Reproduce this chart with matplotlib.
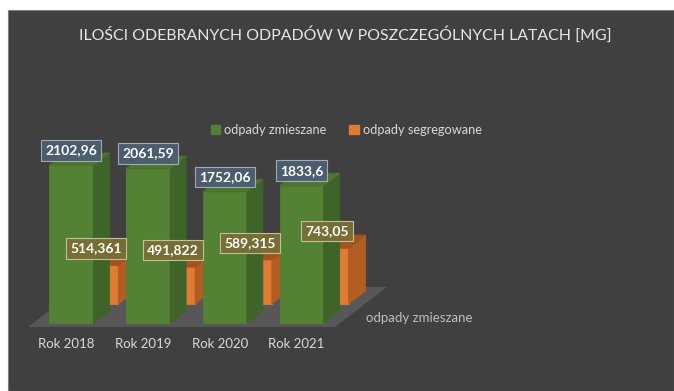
import matplotlib.pyplot as plt
from matplotlib.patches import Polygon, Rectangle, Patch

plt.rcParams['font.family'] = ['Lato', 'DejaVu Sans']

years = ["Rok 2018", "Rok 2019", "Rok 2020", "Rok 2021"]
mixed = [2102.96, 2061.59, 1752.06, 1833.6]
segregated = [514.361, 491.822, 589.315, 743.05]
series_names = ["odpady zmieszane", "odpady segregowane"]
title = "ILOŚCI ODEBRANYCH ODPADÓW W POSZCZEGÓLNYCH LATACH [MG]"

BG = "#404040"
TXT = "#d9d9d9"
# front / side / top shades for each series
GREEN = ("#548235", "#3f6428", "#4c7530")
ORANGE = ("#e07b34", "#b25d22", "#a5531d")

# oblique projection: depth measured in category widths
W_PX, H_PX = 674, 391
CAT_PX = 76.75          # pixels per category
VAL_PX = 0.075          # pixels per value unit
SLOPE = 0.77            # vertical rise per unit of depth
DY = SLOPE * CAT_PX / VAL_PX


def proj(x, z, d):
    return (x + d, z + d * DY)


def draw_box(ax, xc, w, h, d0, d1, shades, z):
    xl, xr = xc - w / 2, xc + w / 2
    front = [proj(xl, 0, d0), proj(xr, 0, d0), proj(xr, h, d0), proj(xl, h, d0)]
    side = [proj(xr, 0, d0), proj(xr, 0, d1), proj(xr, h, d1), proj(xr, h, d0)]
    top = [proj(xl, h, d0), proj(xr, h, d0), proj(xr, h, d1), proj(xl, h, d1)]
    for pts, col in zip((front, side, top), shades):
        ax.add_patch(Polygon(pts, closed=True, facecolor=col, edgecolor=col,
                             linewidth=0.6, zorder=z, clip_on=False))


fig = plt.figure(figsize=(W_PX / 100, H_PX / 100), dpi=100)
fig.patch.set_facecolor("white")
fig.patches.append(Rectangle((8 / W_PX, 0), 1 - 8 / W_PX, 1 - 10 / H_PX,
                             transform=fig.transFigure, facecolor=BG,
                             edgecolor="#7f7f7f", linewidth=0.8, zorder=-5))

ax = fig.add_axes([28 / W_PX, (H_PX - 327) / H_PX, 307 / W_PX, 225 / H_PX])
ax.set_xlim(-0.5, 3.5)
ax.set_ylim(0, 3000)
ax.axis("off")

# floor
fd = 52 / CAT_PX
floor = [proj(-0.5, 0, 0), proj(3.5, 0, 0), proj(3.5, 0, fd), proj(-0.5, 0, fd)]
ax.add_patch(Polygon(floor, closed=True, facecolor="#575757", edgecolor="none",
                     zorder=1, clip_on=False))

bw = 44 / CAT_PX
g0, g1 = 5 / CAT_PX, 21 / CAT_PX
o0, o1 = 30 / CAT_PX, 47 / CAT_PX

for i, v in enumerate(segregated):
    draw_box(ax, i, bw, v, o0, o1, ORANGE, 2 + i * 0.01)
for i, v in enumerate(mixed):
    draw_box(ax, i, bw, v, g0, g1, GREEN, 3 + i * 0.01)

# value labels
for i, v in enumerate(mixed):
    x, y = proj(i, v, g0)
    ax.text(x, y + 200, str(v).replace(".", ","), ha="center", va="center",
            color="white", fontsize=10, fontweight="bold", zorder=6, clip_on=False,
            bbox=dict(boxstyle="square,pad=0.3", facecolor="#4b5e71",
                      edgecolor="#a7b0ba", linewidth=0.8, alpha=0.95))
for i, v in enumerate(segregated):
    x, y = proj(i, v, o0)
    ax.text(x, y + 225, str(v).replace(".", ","), ha="center", va="center",
            color="white", fontsize=10, fontweight="bold", zorder=7, clip_on=False,
            bbox=dict(boxstyle="square,pad=0.3", facecolor="#7a6e33",
                      edgecolor="#c9c3a3", linewidth=0.8, alpha=0.95))

# category labels
for i, lab in enumerate(years):
    ax.text(i, -227, lab, ha="center", va="center", color=TXT, fontsize=9.5,
            clip_on=False)

# depth axis label
fig.text(366 / W_PX, (H_PX - 318) / H_PX, series_names[0], ha="left",
         va="center", color="#bfbfbf", fontsize=9.5)

fig.text(345 / W_PX, (H_PX - 35) / H_PX, title, ha="center", va="center",
         color="#e6e6e6", fontsize=11.4)

handles = [Patch(facecolor=GREEN[0], edgecolor=GREEN[0]),
           Patch(facecolor=ORANGE[0], edgecolor=ORANGE[0])]
leg = fig.legend(handles, series_names, loc="center",
                 bbox_to_anchor=(346 / W_PX, (H_PX - 130) / H_PX), ncol=2,
                 frameon=False, fontsize=9.2, handlelength=0.75, handleheight=0.75,
                 handletextpad=0.3, columnspacing=1.8, labelcolor=TXT)

fig.savefig("out.png", dpi=100, facecolor=fig.get_facecolor())
